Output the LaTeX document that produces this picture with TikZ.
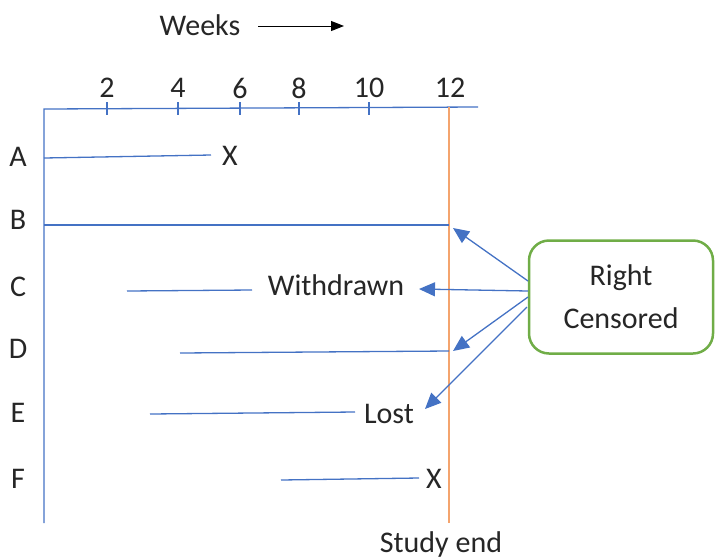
\documentclass[tikz,border=0pt]{standalone}
\usepackage{fontspec}
\setmainfont{Carlito}
\usetikzlibrary{arrows.meta}
\definecolor{lblue}{HTML}{4472C4}
\definecolor{lorange}{HTML}{F4A46E}
\definecolor{lgreen}{HTML}{70AD47}
\begin{document}
\begin{tikzpicture}[x=1pt,y=-1pt,
  txt/.style={font=\fontsize{30}{36}\selectfont, inner sep=0pt, text=black!85},
  bline/.style={draw=lblue, line width=1.3pt},
  tick/.style={draw=lblue, line width=1.1pt},
  carrow/.style={draw=lblue, line width=1.3pt, -{Triangle[length=16pt,width=14pt]}},
  box/.style={draw=lgreen, line width=2.5pt, rounded corners=20pt, fill=white}]
\useasboundingbox (0,0) rectangle (715,558);
% weeks
\node[txt] (weeks) at (200,25) {Weeks};
\coordinate (wa) at (258,26);
\coordinate (wb) at (344,26);
\draw[line width=1pt, -{Triangle[length=13pt,width=10pt]}] (wa) -- (wb);
% axes
\coordinate (o) at (44,109);
\coordinate (yb) at (44,523);
\coordinate (xe) at (478,107);
\draw[bline] (yb) -- (o) -- (xe);
% ticks and labels
\foreach \x/\l/\n in {107/2/a,178/4/b,240/6/c,299/8/d,369/10/e} {
  \draw[tick] (\x,102) -- (\x,115);
  \node[txt] (t\n) at (\x,88) {\l};
}
\node[txt] (tf) at (450,88) {12};
% study end line
\coordinate (s1) at (449,107);
\coordinate (s2) at (449,523);
\draw[draw=lorange, line width=1.5pt] (s1) -- (s2);
\node[txt] (send) at (441,544) {Study end};
% row labels
\node[txt] (rA) at (18,157) {A};
\node[txt] (rB) at (18,220) {B};
\node[txt] (rC) at (18,287) {C};
\node[txt] (rD) at (18,349) {D};
\node[txt] (rE) at (18,413) {E};
\node[txt] (rF) at (18,479) {F};
% A
\coordinate (a1) at (44,158); \coordinate (a2) at (211,155);
\draw[bline] (a1) -- (a2);
\node[txt] (xA) at (230,156) {X};
% B
\coordinate (b1) at (44,225); \coordinate (b2) at (449,225);
\draw[bline] (b1) -- (b2);
% C
\coordinate (c1) at (127,291); \coordinate (c2) at (252,290);
\draw[bline] (c1) -- (c2);
\node[txt] (wd) at (336,285) {Withdrawn};
% D
\coordinate (d1) at (180,353); \coordinate (d2) at (449,351);
\draw[bline] (d1) -- (d2);
% E
\coordinate (e1) at (150,414); \coordinate (e2) at (355,412);
\draw[bline] (e1) -- (e2);
\node[txt] (lost) at (389,414) {Lost};
% F
\coordinate (f1) at (281,480); \coordinate (f2) at (419,478);
\draw[bline] (f1) -- (f2);
\node[txt] (xF) at (434,479) {X};
% box
\node[box, minimum width=184pt, minimum height=113pt, align=center, font=\fontsize{30}{43}\selectfont, text=black!85] (rc) at (621,297) {Right\\Censored};
% arrows
\coordinate (p1) at (528,281); \coordinate (q1) at (453,228);
\coordinate (p2) at (528,291); \coordinate (q2) at (419,289);
\coordinate (p3) at (528,297); \coordinate (q3) at (453,351);
\coordinate (p4) at (527,307); \coordinate (q4) at (425,409);
\draw[carrow] (p1) -- (q1);
\draw[carrow] (p2) -- (q2);
\draw[carrow] (p3) -- (q3);
\draw[carrow] (p4) -- (q4);
\end{tikzpicture}
\end{document}
